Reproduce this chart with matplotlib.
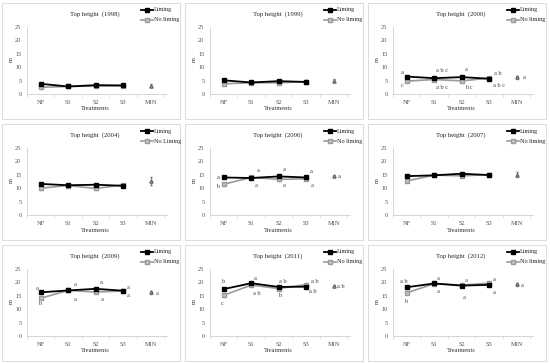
import matplotlib
matplotlib.use("Agg")
import matplotlib.pyplot as plt
from matplotlib.patches import Rectangle
from matplotlib.lines import Line2D

plt.rcParams['font.family'] = ['Liberation Serif', 'DejaVu Serif']

categories = ["NF", "S1", "S2", "S3", "MIN"]
years = ["1998", "1999", "2000", "2004", "2006", "2007", "2009", "2011", "2012"]

liming = {
    "1998": [3.8, 2.8, 3.3, 3.2],
    "1999": [5.1, 4.3, 4.8, 4.5],
    "2000": [6.5, 5.9, 6.3, 5.7],
    "2004": [11.6, 11.1, 11.3, 10.9],
    "2006": [14.0, 13.8, 14.4, 14.0],
    "2007": [14.5, 14.8, 15.4, 14.9],
    "2009": [16.3, 17.0, 17.6, 16.9],
    "2011": [17.5, 19.7, 18.3, 18.4],
    "2012": [18.2, 19.6, 18.8, 19.1],
}
no_liming = {
    "1998": [2.5, 2.8, 3.0, 3.0],
    "1999": [3.8, 4.2, 4.2, 4.6],
    "2000": [4.8, 5.4, 4.9, 5.9],
    "2004": [10.0, 11.0, 9.9, 11.2],
    "2006": [11.5, 14.0, 13.3, 13.5],
    "2007": [12.7, 14.9, 14.6, 15.1],
    "2009": [14.1, 17.0, 16.4, 16.8],
    "2011": [15.2, 19.0, 17.7, 19.2],
    "2012": [16.1, 19.5, 19.0, 19.7],
}
min_value = {"1998": 3.1, "1999": 5.0, "2000": 6.2, "2004": 12.6, "2006": 14.5,
             "2007": 15.0, "2009": 16.3, "2011": 18.5, "2012": 19.3}
min_err = {"1998": 0.5, "1999": 0.6, "2000": 0.5, "2004": 1.4, "2006": 0.5,
           "2007": 0.9, "2009": 0.5, "2011": 0.4, "2012": 0.5}
point_err = 0.5
legend_no = {"2004": "No Liming"}

# significance letters: (year, category index, dx, y, text)
letters = [
    ("2000", 0, -0.15, 8.0, "a"), ("2000", 0, -0.18, 3.0, "c"),
    ("2000", 1, 0.28, 8.8, "a b c"), ("2000", 1, 0.28, 2.4, "a b c"),
    ("2000", 2, 0.15, 9.0, "a"), ("2000", 2, 0.27, 2.4, "b c"),
    ("2000", 3, 0.33, 7.6, "a b"), ("2000", 3, 0.38, 3.2, "a b c"),
    ("2000", 4, 0.27, 6.0, "a"),
    ("2006", 0, -0.2, 14.0, "a"), ("2006", 0, -0.22, 10.5, "b"),
    ("2006", 1, 0.25, 16.6, "a"), ("2006", 1, 0.18, 11.0, "a"),
    ("2006", 2, 0.2, 17.0, "a"), ("2006", 2, 0.2, 11.0, "a"),
    ("2006", 3, 0.18, 16.3, "a"), ("2006", 3, 0.22, 11.0, "a"),
    ("2006", 4, 0.22, 14.3, "a"),
    ("2009", 0, -0.12, 17.9, "a"), ("2009", 0, -0.05, 12.0, "b"),
    ("2009", 1, 0.25, 19.4, "a"), ("2009", 1, 0.25, 13.8, "a"),
    ("2009", 2, 0.2, 19.9, "a"), ("2009", 2, 0.25, 13.6, "a"),
    ("2009", 3, 0.2, 18.2, "a"), ("2009", 3, 0.2, 15.0, "a"),
    ("2009", 4, 0.25, 16.0, "a"),
    ("2011", 0, -0.05, 20.2, "b"), ("2011", 0, -0.05, 12.3, "c"),
    ("2011", 1, 0.15, 21.6, "a"), ("2011", 1, 0.2, 15.8, "a b"),
    ("2011", 2, 0.15, 20.4, "a b"), ("2011", 2, 0.05, 15.0, "b"),
    ("2011", 3, 0.3, 20.4, "a b"), ("2011", 3, 0.25, 16.6, "a b"),
    ("2011", 4, 0.27, 18.4, "a b"),
    ("2012", 0, -0.1, 20.2, "a b"), ("2012", 0, -0.05, 12.8, "b"),
    ("2012", 1, 0.15, 21.6, "a"), ("2012", 1, 0.15, 16.5, "a"),
    ("2012", 2, 0.15, 20.8, "a"), ("2012", 2, 0.1, 14.3, "a"),
    ("2012", 3, 0.2, 21.0, "a"), ("2012", 3, 0.2, 16.3, "a"),
    ("2012", 4, 0.22, 19.0, "a"),
]

W, H = 550, 363
fig = plt.figure(figsize=(W / 100, H / 100), dpi=100)

def fx(px):
    return px / W

def fy(py):
    return 1 - py / H

col_off = [0, 183, 366]
row_off = [0, 121, 242]
grey = "#9a9a9a"
tcol = "#555555"

for i, yr in enumerate(years):
    ox = col_off[i % 3]
    oy = row_off[i // 3]
    # panel frame
    fig.patches.append(Rectangle((fx(ox + 2), fy(oy + 119)), fx(178), 116 / H,
                                 transform=fig.transFigure, fill=False,
                                 edgecolor="#d6d6d6", linewidth=0.6))
    ax = fig.add_axes([fx(ox + 27), fy(oy + 94), fx(140), (94 - 27) / H])
    x = list(range(len(categories)))
    ax.errorbar(x[:4], no_liming[yr], yerr=point_err, color=grey, marker="s",
                markersize=2.8, linewidth=1.2, elinewidth=0.5, capsize=1,
                markerfacecolor="#c4c4c4", markeredgecolor=grey, zorder=2)
    ax.errorbar(x[:4], liming[yr], yerr=point_err * 0.6, color="black", marker="s",
                markersize=2.8, linewidth=1.3, elinewidth=0.5, capsize=1, zorder=3)
    ax.errorbar([x[4]], [min_value[yr]], yerr=min_err[yr], color="#666666",
                marker="^", markersize=2.3, linewidth=0, elinewidth=0.5,
                capsize=1, markerfacecolor="white", zorder=3)
    ax.set_xlim(-0.5, 4.6)
    ax.set_ylim(0, 25)
    ax.set_yticks([0, 5, 10, 15, 20, 25])
    ax.set_xticks(x)
    ax.set_xticklabels(categories)
    ax.set_xticks([-0.5, 0.5, 1.5, 2.5, 3.5, 4.5], minor=True)
    ax.tick_params(axis="both", which="major", length=0, labelsize=4.6,
                   colors=tcol, pad=4)
    ax.tick_params(axis="x", which="minor", length=2, color="#d0d0d0", width=0.5)
    for s in ["top", "right"]:
        ax.spines[s].set_visible(False)
    for s in ["left", "bottom"]:
        ax.spines[s].set_color("#d0d0d0")
        ax.spines[s].set_linewidth(0.6)
    ax.patch.set_alpha(0)
    for (ly, ci, dx, yy, txt) in letters:
        if ly == yr:
            ax.text(ci + dx, yy, txt, fontsize=4.6, color="#444444",
                    ha="center", va="center")
    # texts in panel pixel coords
    fig.text(fx(ox + 95), fy(oy + 14), "Top height  (%s)" % yr, fontsize=4.8,
             ha="center", va="center", color="#222222")
    fig.text(fx(ox + 95), fy(oy + 109), "Treatments", fontsize=4.6,
             ha="center", va="center", color="#333333")
    fig.text(fx(ox + 11), fy(oy + 60), "m", fontsize=4.6, rotation=90,
             ha="center", va="center", color="#333333")
    # legend
    lx = [fx(ox + 141), fx(ox + 147), fx(ox + 153)]
    fig.lines.append(Line2D(lx, [fy(oy + 10)] * 3,
                            transform=fig.transFigure, color="black", lw=1.3,
                            marker="s", markersize=2.8, markevery=[1]))
    fig.lines.append(Line2D(lx, [fy(oy + 20)] * 3,
                            transform=fig.transFigure, color=grey, lw=1.2,
                            marker="s", markersize=2.8, markevery=[1],
                            markerfacecolor="#c4c4c4"))
    fig.text(fx(ox + 154), fy(oy + 10), "Liming", fontsize=4.4, ha="left",
             va="center", color="#222222")
    fig.text(fx(ox + 154), fy(oy + 20), legend_no.get(yr, "No liming"), fontsize=4.4,
             ha="left", va="center", color="#222222")

fig.savefig("out.png", dpi=100)
